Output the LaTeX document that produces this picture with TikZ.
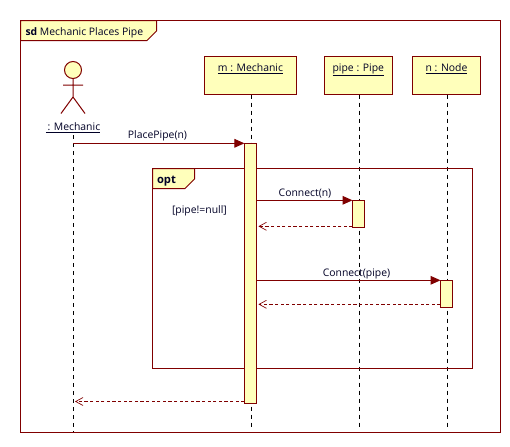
\documentclass[tikz,border=0pt]{standalone}
\usepackage{fontspec}
\setmainfont{Open Sans}
\usetikzlibrary{arrows.meta}
\definecolor{umlred}{HTML}{800000}
\definecolor{umlfill}{HTML}{FFFFBB}
\tikzset{
  x=0.75pt,y=-0.75pt,
  every node/.style={font=\fontsize{7.8}{9.5}\selectfont,inner sep=0pt,outer sep=0pt,text=black!85!blue},
  umlline/.style={draw=umlred,line width=0.75pt},
  umlbox/.style={umlline,fill=umlfill},
  lifeline/.style={draw=black,line width=0.75pt,dash pattern=on 3pt off 3pt},
  msg/.style={umlline,-{Triangle[length=7.5pt,width=6.5pt,fill=umlred]}},
  ret/.style={draw=umlred,line width=0.75pt,dash pattern=on 2.4pt off 1.8pt,shorten >=1.5pt,-{Straight Barb[length=5.5pt,width=6pt,line width=0.5pt]}},
  label/.style={anchor=base}
}
\begin{document}
\begin{tikzpicture}
\useasboundingbox (0,0) rectangle (510,446);
\fill[white] (0,0) rectangle (510,446);
% outer frame
\draw[umlline] (20.5,20.5) rectangle (500.5,432.5);
\draw[umlbox] (20.5,20.5) -- (156.5,20.5) -- (156.5,31) -- (147,40.5) -- (20.5,40.5) -- cycle;
\node[anchor=base west] (frametitle) at (25.5,35) {\textbf{sd} Mechanic Places Pipe};
% participants
\node[umlbox,minimum width=69pt,minimum height=28.5pt] (m) at (250.3,75.3) {};
\node[label] (mt) at (250.5,71) {\underline{m : Mechanic}};
\node[umlbox,minimum width=51pt,minimum height=28.5pt] (pipe) at (358.3,75.3) {};
\node[label] (pt) at (358.3,71) {\underline{pipe : Pipe}};
\node[umlbox,minimum width=51.3pt,minimum height=28.5pt] (n) at (446.5,75.3) {};
\node[label] (nt) at (446.5,71) {\underline{n : Node}};
% lifelines
\coordinate (a0) at (73,135);
\coordinate (a1) at (73,432);
\coordinate (m0) at (251.5,94.5);
\coordinate (m1) at (251.5,430);
\coordinate (p0) at (359.3,94.5);
\coordinate (p1) at (359.3,430);
\coordinate (n0) at (447.3,94.5);
\coordinate (n1) at (447.3,430);
\draw[lifeline] (a0) -- (a1);
\draw[lifeline] (p0) -- (p1);
\draw[lifeline] (n0) -- (n1);
\draw[lifeline] (m0) -- (m1);
% opt frame
\draw[umlline] (152.5,168.5) rectangle (472.5,368.5);
\draw[umlbox] (152.5,168.5) -- (194.5,168.5) -- (194.5,179) -- (185,188.5) -- (152.5,188.5) -- cycle;
\node[anchor=base west,font=\fontsize{8.4}{9.5}\selectfont\bfseries] (opt) at (157,183) {opt};
\node[anchor=base west] (guard) at (172,213) {[pipe!=null]};
% actor
\draw[umlbox] (73,70) circle[radius=8.5];
\draw[umlline] (73,78.5) -- (73,97) (63,85) -- (83,85) (61,113.5) -- (73,97) -- (85,113.5);
\node[label] (al) at (73,130) {\underline{\,: Mechanic}};
% activations
\node[umlbox,minimum width=9pt,minimum height=195pt,anchor=north] (am) at (250.4,143.3) {};
\node[umlbox,minimum width=9pt,minimum height=20.25pt,anchor=north] (ap) at (358.5,200.3) {};
\node[umlbox,minimum width=9pt,minimum height=20.25pt,anchor=north] (an) at (446.5,280.3) {};
% messages
\coordinate (s1) at (73,143.3);
\coordinate (s2) at (73,401.5);
\draw[msg] (s1) -- (am.north west);
\node[label] (l1) at (157.5,138) {PlacePipe(n)};
\draw[msg] (am.east |- ap.north) -- (ap.north west);
\node[label] (l2) at (305,196) {Connect(n)};
\draw[ret] (ap.west |- 0,226.3) -- (am.east |- 0,226.3);
\draw[msg] (am.east |- an.north) -- (an.north west);
\node[label] (l3) at (356.5,276) {Connect(pipe)};
\draw[ret] (an.west |- 0,304.3) -- (am.east |- 0,304.3);
\draw[ret] (am.west |- s2) -- (s2);
\end{tikzpicture}
\end{document}
